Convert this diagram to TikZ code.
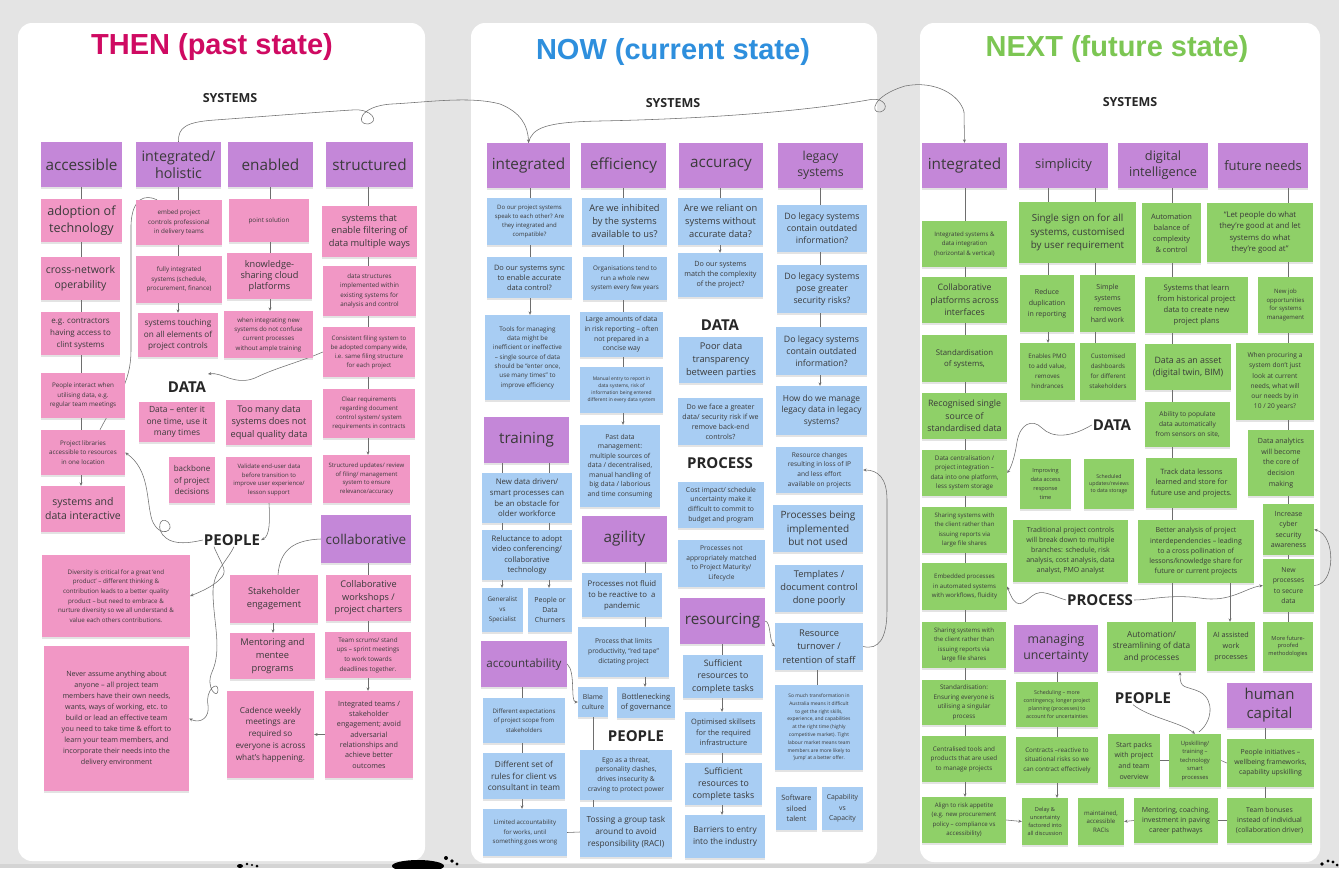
\documentclass[tikz,border=0pt]{standalone}
\usepackage{fontspec}
\setmainfont{Open Sans}
\newfontfamily\ttlfont{Liberation Sans}
\usetikzlibrary{arrows.meta,shadows,calc}
\definecolor{bgg}{HTML}{E4E4E4}
\definecolor{pur}{HTML}{C487D8}
\definecolor{pnk}{HTML}{F197C5}
\definecolor{blu}{HTML}{A8CDF3}
\definecolor{grn}{HTML}{8FD068}
\definecolor{tthen}{HTML}{CF0A62}
\definecolor{tnow}{HTML}{2E8FDD}
\definecolor{tnext}{HTML}{7CC653}
\definecolor{txt}{HTML}{3A3A3A}
\definecolor{lnc}{HTML}{6E6E6E}
\pgfdeclarelayer{bg}\pgfdeclarelayer{lines}\pgfsetlayers{bg,lines,main}
\newcommand\stk[7]{%
 \pgfmathsetmacro\stkw{#4-#2}\pgfmathsetmacro\stkh{#5-#3}%
 \pgfmathsetmacro\stkx{(#2+#4)/2}\pgfmathsetmacro\stky{(#3+#5)/2}%
 \node[#6, minimum width=\stkw pt, minimum height=\stkh pt] (#1) at (\stkx,\stky) {#7};}
\newcommand\cln[4][ln]{\draw[#1] (#2.south -| #4) -- (#3.north -| #4);}
\tikzset{
 stk/.style={rectangle, inner sep=1pt, align=center, text=txt,
   drop shadow={shadow xshift=0.4pt, shadow yshift=-2.4pt, opacity=0.22}},
 pu/.style={stk, fill=pur, font=\fontsize{15.3}{17}\selectfont},
 pk/.style={stk, fill=pnk},
 bl/.style={stk, fill=blu},
 gr/.style={stk, fill=grn},
 fs/.style 2 args={font=\fontsize{#1}{#2}\selectfont},
 lbl/.style={font=\fontsize{15}{17}\selectfont\bfseries, text=black!85, inner sep=1pt},
 sysl/.style={lbl, font=\fontsize{12.5}{14}\selectfont\bfseries},
 ttl/.style={font=\ttlfont\fontsize{29}{31}\selectfont\bfseries},
 ln/.style={draw=lnc, line width=0.55pt},
 ar/.style={ln, -{Stealth[length=3.4pt,width=3pt]}},
}
\begin{document}
\begin{tikzpicture}[x=1pt,y=-1pt]
\useasboundingbox (0,0) rectangle (1339,868);
\begin{pgfonlayer}{bg}
\fill[bgg] (0,0) rectangle (1339,868);
\fill[black!17] (0,864) rectangle (1339,868);
\fill[white, rounded corners=14pt] (18,23) rectangle (425,861);
\fill[white, rounded corners=14pt] (471,23) rectangle (877,863);
\fill[white, rounded corners=14pt] (920,23) rectangle (1320,862);
\fill[black] (240,866) ellipse (3 and 2) (247,864) circle (1.3) (252,865) circle (1.2) (257,866) circle (1.5);
\fill[black] (418,866) ellipse (26 and 6) (446,858) circle (2) (452,861) circle (1.8) (457,864) circle (1.6);
\fill[black] (1322,864) circle (1.8) (1328,861) circle (1.6) (1333,862) circle (1.7) (1337,865) circle (1.5);
\end{pgfonlayer}

% ---------------- titles and labels
\node[ttl, text=tthen] (t1) at (212,47) {THEN (past state)};
\node[ttl, text=tnow] (t2) at (673,52) {NOW (current state)};
\node[ttl, text=tnext] (t3) at (1117,49) {NEXT (future state)};
\node[sysl] (sys1) at (230,98) {SYSTEMS};
\node[sysl] (sys2) at (673,103) {SYSTEMS};
\node[sysl] (sys3) at (1130,102) {SYSTEMS};
\node[lbl] (data1) at (187,387) {DATA};
\node[lbl] (peop1) at (232,540) {PEOPLE};
\node[lbl] (data2) at (720,325) {DATA};
\node[lbl] (proc2) at (720,463) {PROCESS};
\node[lbl] (peop2) at (636,736) {PEOPLE};
\node[lbl] (data3) at (1112,425) {DATA};
\node[lbl] (proc3) at (1100,600) {PROCESS};
\node[lbl] (peop3) at (1143,698) {PEOPLE};

% ---------------- THEN
\stk{acc}{41}{142}{122}{187}{pu}{accessible}
\stk{hol}{136}{142}{221}{187}{pu,fs={14.3}{17}}{integrated/\\holistic}
\stk{ena}{228}{142}{313}{187}{pu}{enabled}
\stk{str}{326}{142}{413}{187}{pu}{structured}
\stk{adop}{41}{199}{122}{242}{pk,fs={12.6}{16.5}}{adoption of\\technology}
\stk{embed}{136}{200}{222}{245}{pk,fs={6.3}{9.5}}{embed project\\controls professional\\in delivery teams}
\stk{point}{229}{199}{309}{242}{pk,fs={6.3}{9.5}}{point solution}
\stk{filt}{322}{206}{417}{257}{pk,fs={9.3}{12.8}}{systems that\\enable filtering of\\data multiple ways}
\stk{cross}{41}{257}{120}{300}{pk,fs={10.5}{15}}{cross-network\\operability}
\stk{fully}{136}{256}{222}{303}{pk,fs={6.3}{9.5}}{fully integrated\\systems (schedule,\\procurement, finance)}
\stk{know}{227}{253}{312}{299}{pk,fs={9.2}{11.3}}{knowledge-\\sharing cloud\\platforms}
\stk{dstruct}{323}{266}{416}{316}{pk,fs={6.3}{9.3}}{data structures\\implemented within\\existing systems for\\analysis and control}
\stk{eg}{41}{312}{120}{355}{pk,fs={8}{12}}{e.g. contractors\\having access to\\clint systems}
\stk{touch}{138}{313}{218}{357}{pk,fs={8.2}{11.5}}{systems touching\\on all elements of\\project controls}
\stk{wint}{224}{311}{313}{358}{pk,fs={6.2}{9.4}}{when integrating new\\systems do not confuse\\current processes\\without ample training}
\stk{consist}{323}{327}{415}{377}{pk,fs={6.1}{9}}{Consistent filing system to\\be adopted company wide,\\i.e. same filing structure\\for each project}
\stk{pint}{41}{373}{125}{418}{pk,fs={6.3}{9.5}}{People interact when\\utilising data, e.g.\\regular team meetings}
\stk{dent}{139}{402}{215}{442}{pk,fs={8.5}{11.5}}{Data – enter it\\one time, use it\\many times}
\stk{toomany}{226}{400}{312}{445}{pk,fs={9.2}{12.5}}{Too many data\\systems does not\\equal quality data}
\stk{clear}{323}{389}{415}{438}{pk,fs={6.1}{9}}{Clear requirements\\regarding document\\control system/ system\\requirements in contracts}
\stk{plib}{41}{430}{125}{475}{pk,fs={6.3}{9.5}}{Project libraries\\accessible to resources\\in one location}
\stk{back}{169}{457}{215}{503}{pk,fs={8}{11.5}}{backbone\\of project\\decisions}
\stk{valid}{226}{457}{312}{503}{pk,fs={6}{8.8}}{Validate end-user data\\before transition to\\improve user experience/\\lesson support}
\stk{supd}{323}{455}{410}{503}{pk,fs={6}{8.8}}{Structured updates/ review\\of filing/ management\\system to ensure\\relevance/accuracy}
\stk{sdi}{41}{486}{125}{532}{pk,fs={10.5}{14}}{systems and\\data interactive}
\stk{coll}{321}{515}{411}{563}{pu,fs={13.5}{16}}{collaborative}
\stk{div}{42}{555}{190}{637}{pk,fs={6.2}{9.6}}{Diversity is critical for a great ‘end\\product’ – different thinking \&\\contribution leads to a better quality\\product – but need to embrace \&\\nurture diversity so we all understand \&\\value each others contributions.}
\stk{stake}{230}{575}{318}{623}{pk,fs={9.3}{13}}{Stakeholder\\engagement}
\stk{cwork}{326}{575}{411}{621}{pk,fs={9.2}{12.5}}{Collaborative\\workshops /\\project charters}
\stk{ment}{230}{633}{315}{679}{pk,fs={9.3}{13}}{Mentoring and\\mentee\\programs}
\stk{scrum}{325}{632}{411}{678}{pk,fs={6.3}{9.6}}{Team scrums/ stand\\ups – sprint meetings\\to work towards\\deadlines together.}
\stk{never}{44}{646}{189}{791}{pk,fs={7.2}{11}}{Never assume anything about\\anyone – all project team\\members have their own needs,\\wants, ways of working, etc. to\\build or lead an effective team\\you need to take time \& effort to\\learn your team members, and\\incorporate their needs into the\\delivery environment}
\stk{cad}{227}{691}{314}{778}{pk,fs={8.2}{11.7}}{Cadence weekly\\meetings are\\required so\\everyone is across\\what’s happening.}
\stk{integ}{325}{691}{413}{778}{pk,fs={7.2}{10.3}}{Integrated teams /\\stakeholder\\engagement; avoid\\adversarial\\relationships and\\achieve better\\outcomes}

% ---------------- NOW
\stk{int2}{487}{143}{570}{188}{pu}{integrated}
\stk{eff}{581}{143}{666}{188}{pu}{efficiency}
\stk{accu}{679}{143}{763}{188}{pu}{accuracy}
\stk{leg}{778}{143}{863}{188}{pu,fs={12.3}{16.5}}{legacy\\systems}
\stk{q1}{487}{198}{572}{245}{bl,fs={6}{9.2}}{Do our project systems\\speak to each other? Are\\they integrated and\\compatible?}
\stk{q2}{582}{198}{667}{245}{bl,fs={9.3}{13}}{Are we inhibited\\by the systems\\available to us?}
\stk{q3}{678}{198}{763}{245}{bl,fs={9.3}{13}}{Are we reliant on\\systems without\\accurate data?}
\stk{q4}{777}{205}{867}{252}{bl,fs={8.8}{12}}{Do legacy systems\\contain outdated\\information?}
\stk{q5}{487}{257}{572}{298}{bl,fs={7.4}{10}}{Do our systems sync\\to enable accurate\\data control?}
\stk{q6}{583}{257}{667}{300}{bl,fs={6.3}{9.5}}{Organisations tend to\\run a whole new\\system every few years}
\stk{q7}{678}{253}{763}{297}{bl,fs={7.2}{10}}{Do our systems\\match the complexity\\of the project?}
\stk{q8}{777}{265}{867}{313}{bl,fs={8.8}{12}}{Do legacy systems\\pose greater\\security risks?}
\stk{q9}{485}{315}{570}{400}{bl,fs={6.3}{9.3}}{Tools for managing\\data might be\\inefficient or ineffective\\– single source of data\\should be “enter once,\\use many times” to\\improve efficiency}
\stk{q10}{580}{312}{663}{357}{bl,fs={6.8}{9.8}}{Large amounts of data\\in risk reporting – often\\not prepared in a\\concise way}
\stk{q11}{679}{337}{763}{383}{bl,fs={9.3}{13}}{Poor data\\transparency\\between parties}
\stk{q12}{776}{327}{867}{375}{bl,fs={8.8}{12}}{Do legacy systems\\contain outdated\\information?}
\stk{q13}{580}{367}{663}{413}{bl,fs={4.9}{7}}{Manual entry to report in\\data systems, risk of\\information being entered\\different in every data system}
\stk{q14}{678}{398}{763}{445}{bl,fs={7.1}{10}}{Do we face a greater\\data/ security risk if we\\remove back-end\\controls?}
\stk{q15}{776}{386}{867}{435}{bl,fs={8.4}{11.5}}{How do we manage\\legacy data in legacy\\systems?}
\stk{train}{484}{417}{569}{463}{pu}{training}
\stk{q16}{580}{425}{660}{507}{bl,fs={6.8}{9.5}}{Past data\\management:\\multiple sources of\\data / decentralised,\\manual handling of\\big data / laborious\\and time consuming}
\stk{q17}{776}{447}{863}{493}{bl,fs={6.6}{9.8}}{Resource changes\\resulting in loss of IP\\and less effort\\available on projects}
\stk{q18}{482}{473}{572}{523}{bl,fs={7.8}{10.7}}{New data driven/\\smart processes can\\be an obstacle for\\older workforce}
\stk{q19}{678}{482}{764}{528}{bl,fs={6.8}{9.8}}{Cost impact/ schedule\\uncertainty make it\\difficult to commit to\\budget and program}
\stk{q20}{773}{505}{863}{552}{bl,fs={10}{13.5}}{Processes being\\implemented\\but not used}
\stk{agil}{582}{516}{667}{562}{pu}{agility}
\stk{q21}{482}{530}{572}{580}{bl,fs={7.6}{10.3}}{Reluctance to adopt\\video conferencing/\\collaborative\\technology}
\stk{q22}{678}{540}{765}{587}{bl,fs={6.6}{9.8}}{Processes not\\appropriately matched\\to Project Maturity/\\Lifecycle}
\stk{q23}{775}{565}{863}{612}{bl,fs={9.3}{13}}{Templates /\\document control\\done poorly}
\stk{q24}{482}{588}{523}{632}{bl,fs={6.3}{10}}{Generalist\\vs\\Specialist}
\stk{q25}{528}{588}{572}{632}{bl,fs={7}{10}}{People or\\Data\\Churners}
\stk{q26}{582}{573}{662}{617}{bl,fs={7.8}{11}}{Processes not fluid\\to be reactive to \ a\\pandemic}
\stk{res}{680}{598}{765}{644}{pu}{resourcing}
\stk{q27}{775}{623}{863}{670}{bl,fs={9.3}{13.5}}{Resource\\turnover /\\retention of staff}
\stk{acct}{481}{641}{567}{687}{pu,fs={11.6}{14}}{accountability}
\stk{q28}{578}{627}{669}{677}{bl,fs={6.7}{10}}{Process that limits\\productivity, “red tape”\\dictating project}
\stk{q29}{683}{655}{763}{698}{bl,fs={8.8}{12.3}}{Sufficient\\resources to\\complete tasks}
\stk{q30}{578}{687}{608}{717}{bl,fs={6.8}{10}}{Blame\\culture}
\stk{q31}{617}{687}{675}{718}{bl,fs={7.6}{10.5}}{Bottlenecking\\of governance}
\stk{q32}{483}{698}{565}{743}{bl,fs={6.1}{9.5}}{Different expectations\\of project scope from\\stakeholders}
\stk{q33}{775}{685}{863}{770}{bl,fs={4.9}{7.8}}{So much transformation in\\Australia means it difficult\\to get the right skills,\\experience, and capabilities\\at the right time (highly\\competitive market). Tight\\labour market means team\\members are more likely to\\‘jump’ at a better offer.}
\stk{q34}{685}{712}{762}{753}{bl,fs={7.4}{10.5}}{Optimised skillsets\\for the required\\infrastructure}
\stk{q35}{483}{753}{565}{799}{bl,fs={8.3}{11.5}}{Different set of\\rules for client vs\\consultant in team}
\stk{q36}{580}{750}{672}{800}{bl,fs={6.7}{9.8}}{Ego as a threat,\\personality clashes,\\drives insecurity \&\\craving to protect power}
\stk{q37}{685}{763}{762}{805}{bl,fs={8.8}{12.3}}{Sufficient\\resources to\\complete tasks}
\stk{q38}{776}{787}{817}{830}{bl,fs={7.3}{10.5}}{Software\\siloed\\talent}
\stk{q39}{822}{787}{863}{830}{bl,fs={6.8}{10.5}}{Capability\\vs\\Capacity}
\stk{q40}{483}{809}{567}{856}{bl,fs={6.1}{9.5}}{Limited accountability\\for works, until\\something goes wrong}
\stk{q41}{580}{807}{672}{857}{bl,fs={8.3}{12}}{Tossing a group task\\around to avoid\\responsibility (RACI)}
\stk{q42}{685}{815}{765}{858}{bl,fs={8.3}{12}}{Barriers to entry\\into the industry}

% ---------------- NEXT
\stk{int3}{922}{143}{1007}{188}{pu}{integrated}
\stk{simp}{1019}{143}{1108}{188}{pu,fs={13}{16}}{simplicity}
\stk{digi}{1118}{143}{1208}{188}{pu,fs={12.8}{16}}{digital\\intelligence}
\stk{fut}{1218}{143}{1308}{188}{pu,fs={13}{16}}{future needs}
\stk{g1}{1019}{202}{1136}{263}{gr,fs={9.8}{13.5}}{Single sign on for all\\systems, customised\\by user requirement}
\stk{g2}{1142}{203}{1201}{263}{gr,fs={7.4}{11}}{Automation\\balance of\\complexity\\\& control}
\stk{g3}{1207}{203}{1313}{262}{gr,fs={7.8}{11.5}}{“Let people do what\\they’re good at and let\\systems do what\\they’re good at”}
\stk{g4}{922}{221}{1007}{267}{gr,fs={6.1}{9.3}}{Integrated systems \&\\data integration\\(horizontal \& vertical)}
\stk{g5}{922}{277}{1007}{323}{gr,fs={8.8}{12.5}}{Collaborative\\platforms across\\interfaces}
\stk{g6}{1020}{275}{1074}{332}{gr,fs={7}{11}}{Reduce\\duplication\\in reporting}
\stk{g7}{1080}{275}{1135}{332}{gr,fs={7}{11}}{Simple\\systems\\removes\\hard work}
\stk{g8}{1145}{277}{1248}{333}{gr,fs={7.6}{11}}{Systems that learn\\from historical project\\data to create new\\project plans}
\stk{g9}{1258}{277}{1313}{333}{gr,fs={6}{8.5}}{New job\\opportunities\\for systems\\management}
\stk{g10}{922}{335}{1007}{382}{gr,fs={7.8}{11}}{Standardisation\\of systems,}
\stk{g11}{1020}{343}{1075}{400}{gr,fs={6.2}{10}}{Enables PMO\\to add value,\\removes\\hindrances}
\stk{g12}{1080}{343}{1136}{400}{gr,fs={6.2}{10}}{Customised\\dashboards\\for different\\stakeholders}
\stk{g13}{1145}{344}{1231}{390}{gr,fs={8.8}{12}}{Data as an asset\\(digital twin, BIM)}
\stk{g14}{1236}{343}{1314}{420}{gr,fs={6.6}{10.2}}{When procuring a\\system don’t just\\look at current\\needs, what will\\our needs by in\\10 / 20 years?}
\stk{g15}{922}{393}{1007}{439}{gr,fs={8.8}{12.5}}{Recognised single\\source of\\standardised data}
\stk{g16}{1145}{402}{1230}{447}{gr,fs={6.6}{10.3}}{Ability to populate\\data automatically\\from sensors on site,}
\stk{g17}{922}{450}{1007}{496}{gr,fs={6.3}{9.5}}{Data centralisation /\\project integration –\\data into one platform,\\less system storage}
\stk{g18}{1020}{459}{1071}{509}{gr,fs={5.6}{9}}{Improving\\data access\\response\\time}
\stk{g19}{1084}{459}{1134}{509}{gr,fs={5.2}{7.2}}{Scheduled\\updates/reviews\\to data storage}
\stk{g20}{1146}{458}{1237}{508}{gr,fs={7.3}{10.7}}{Track data lessons\\learned and store for\\future use and projects.}
\stk{g21}{1248}{430}{1314}{496}{gr,fs={7.1}{10.7}}{Data analytics\\will become\\the core of\\decision\\making}
\stk{g22}{922}{507}{1007}{553}{gr,fs={6.1}{9.6}}{Sharing systems with\\the client rather than\\issuing reports via\\large file shares}
\stk{g23}{1013}{520}{1128}{582}{gr,fs={7}{10}}{Traditional project controls\\will break down to multiple\\branches: schedule, risk\\analysis, cost analysis, data\\analyst, PMO analyst}
\stk{g24}{1138}{520}{1254}{583}{gr,fs={7}{10.3}}{Better analysis of project\\interdependencies – leading\\to a cross pollination of\\lessons/knowledge share for\\future or current projects}
\stk{g25}{1263}{504}{1314}{555}{gr,fs={7.1}{10.5}}{Increase\\cyber\\security\\awareness}
\stk{g26}{922}{563}{1007}{610}{gr,fs={6.1}{9.5}}{Embedded processes\\in automated systems\\with workflows, fluidity}
\stk{g27}{1263}{559}{1314}{612}{gr,fs={6.8}{10.5}}{New\\processes\\to secure\\data}
\stk{g28}{922}{622}{1006}{668}{gr,fs={6.1}{9.6}}{Sharing systems with\\the client rather than\\issuing reports via\\large file shares}
\stk{mu}{1014}{625}{1098}{672}{pu,fs={12.3}{16.5}}{managing\\uncertainty}
\stk{g29}{1107}{622}{1196}{671}{gr,fs={8.3}{11.5}}{Automation/\\streamlining of data\\and processes}
\stk{g30}{1207}{622}{1255}{671}{gr,fs={7.2}{11}}{AI assisted\\work\\processes}
\stk{g31}{1263}{622}{1313}{671}{gr,fs={5.6}{7.5}}{More future-\\proofed\\methodologies}
\stk{g32}{922}{680}{1006}{725}{gr,fs={6.3}{9.6}}{Standardisation:\\Ensuring everyone is\\utilising a singular\\process}
\stk{g33}{1016}{682}{1098}{727}{gr,fs={5.3}{8}}{Scheduling – more\\contingency, longer project\\planning (processes) to\\account for uncertainties}
\stk{hc}{1227}{683}{1312}{728}{pu,fs={15}{19}}{human\\capital}
\stk{g34}{922}{736}{1006}{782}{gr,fs={6.3}{9.5}}{Centralised tools and\\products that are used\\to manage projects}
\stk{g35}{1016}{737}{1098}{783}{gr,fs={6.3}{9.5}}{Contracts –reactive to\\situational risks so we\\can contract effectively}
\stk{g36}{1108}{734}{1160}{787}{gr,fs={7}{10.7}}{Start packs\\with project\\and team\\overview}
\stk{g37}{1169}{734}{1221}{787}{gr,fs={5.8}{8.5}}{Upskilling/\\training –\\technology\\smart\\processes}
\stk{g38}{1227}{739}{1314}{787}{gr,fs={6.9}{10}}{People initiatives –\\wellbeing frameworks,\\capability upskilling}
\stk{g39}{922}{797}{1006}{843}{gr,fs={6.1}{9.2}}{Align to risk appetite\\(e.g. new procurement\\policy – compliance vs\\accessibility)}
\stk{g40}{1022}{798}{1068}{845}{gr,fs={5.6}{8.2}}{Delay \&\\uncertainty\\factored into\\all discussion}
\stk{g41}{1078}{798}{1124}{845}{gr,fs={6.1}{8.8}}{maintained,\\accessible\\RACIs}
\stk{g42}{1134}{798}{1218}{843}{gr,fs={7}{10.2}}{Mentoring, coaching,\\investment in paving\\career pathways}
\stk{g43}{1227}{798}{1312}{843}{gr,fs={6.9}{10.2}}{Team bonuses\\instead of individual\\(collaboration driver)}

% ---------------- connectors
\coordinate (xa) at (81,0); \coordinate (xb) at (178,0); \coordinate (xc) at (270,0);
\coordinate (xd) at (368,0); \coordinate (xe) at (273,0); \coordinate (xs) at (278,0);
\coordinate (ya) at (530,0); \coordinate (yb) at (623,0); \coordinate (yc) at (720,0);
\coordinate (yd) at (820,0); \coordinate (ye) at (502,0); \coordinate (yf) at (549,0);
\coordinate (yg) at (645,0); \coordinate (yh) at (522,0); \coordinate (yi) at (593,0);
\coordinate (yj) at (722,0); \coordinate (yk) at (817,0);
\coordinate (za) at (965,0); \coordinate (zb) at (1048,0); \coordinate (zc) at (1095,0);
\coordinate (zd) at (1172,0); \coordinate (ze) at (1288,0); \coordinate (zf) at (1230,0);
\coordinate (zg) at (1057,0); \coordinate (zh) at (1265,0);
\begin{pgfonlayer}{lines}
% THEN columns
\cln{acc}{adop}{xa}\cln{adop}{cross}{xa}\cln{cross}{eg}{xa}\cln{eg}{pint}{xa}\cln{pint}{plib}{xa}\cln[ar]{plib}{sdi}{xa}
\cln{hol}{embed}{xb}\cln{embed}{fully}{xb}\cln[ar]{fully}{touch}{xb}
\cln{ena}{point}{xc}\cln{point}{know}{xc}\cln[ar]{know}{wint}{xc}
\cln{str}{filt}{xd}\cln{filt}{dstruct}{xd}\cln{dstruct}{consist}{xd}\cln{consist}{clear}{xd}\cln[ar]{clear}{supd}{xd}
\cln{coll}{cwork}{xd}\cln{cwork}{scrum}{xd}\cln[ar]{scrum}{integ}{xd}
\cln[ar]{stake}{ment}{xe}
\draw[ar] (integ.west) -- (cad.east);
% THEN curves
\draw[ar] (hol.north) .. controls (178,128) and (185,122) .. (215,120)
  .. controls (270,116) and (320,112) .. (352,110)
  .. controls (372,108) and (380,122) .. (368,124)
  .. controls (356,125) and (358,106) .. (392,104)
  .. controls (430,102) and (470,96) .. (500,104)
  .. controls (520,112) and (528,125) .. (int2.north);
\draw[ar] (int2.north) .. controls (532,128) and (545,122) .. (600,121)
  .. controls (700,119) and (800,112) .. (868,100)
  .. controls (886,96) and (890,110) .. (880,112)
  .. controls (870,113) and (872,96) .. (905,86)
  .. controls (935,80) and (960,95) .. (964,112)
  -- (int3.north);
\draw[ln] ($(embed.north)+(-22,0)$) .. controls (145,194) and (132,198) .. (131,225)
  -- (131,350) .. controls (131,385) and (115,400) .. ($(plib.north)+(17,0)$);
\draw[ar] (consist.west) .. controls (300,362) and (275,368) .. (255,378)
  .. controls (235,386) and (222,372) .. (208,374);
\draw[ar] (peop1.west) .. controls (190,543) and (175,545) .. (166,538)
  .. controls (155,530) and (160,515) .. (168,522)
  .. controls (176,530) and (160,540) .. (152,520)
  .. controls (146,500) and (150,470) .. (plib.east);
\draw[ar] (valid.south) .. controls (270,520) and (270,536) .. (peop1.east);
\draw[ar] ($(peop1.south)+(-18,0)$) .. controls (220,562) and (228,570) .. (222,577)
  .. controls (215,585) and (205,590) .. (div.east);
\draw[ar] ($(peop1.south)+(2,0)$) .. controls (226,563) and (212,572) .. (213,595)
  .. controls (214,625) and (222,650) .. (212,672)
  .. controls (205,688) and (218,700) .. (218,690)
  .. controls (218,680) and (205,690) .. (208,705)
  .. controls (210,718) and (200,724) .. (never.east);
\draw[ln] (coll.west) .. controls (296,540) and (280,548) .. (stake.north -| xs);
% NOW columns
\cln{int2}{q1}{ya}\cln{q1}{q5}{ya}\cln[ar]{q5}{q9}{ya}
\cln{eff}{q2}{yb}\cln{q2}{q6}{yb}\cln{q6}{q10}{yb}\cln{q10}{q13}{yb}\cln[ar]{q13}{q16}{yb}
\cln{accu}{q3}{yc}\cln[ar]{q3}{q7}{yc}
\cln{leg}{q4}{yd}\cln{q4}{q8}{yd}\cln{q8}{q12}{yd}\cln[ar]{q12}{q15}{yd}
\cln{train}{q18}{ye}\cln{train}{q18}{yf}\cln{q18}{q21}{ye}\cln{q18}{q21}{yf}
\cln[ar]{q21}{q24}{ye}\cln[ar]{q21}{q25}{yf}
\cln{agil}{q26}{yg}\cln{q26}{q28}{yg}\cln[ar]{q28}{q31}{yg}
\cln{acct}{q32}{yh}\cln{q32}{q35}{yh}\cln[ar]{q35}{q40}{yh}
\cln{q30}{q36}{yi}\cln{q36}{q41}{yi}
\draw[ln] (q40.east) -- (q41.west);
\cln{res}{q29}{yj}\cln[ar]{q29}{q34}{yj}\cln{q34}{q37}{yj}\cln[ar]{q37}{q42}{yj}
\cln{q27}{q33}{yk}
\draw[ar] (acct.east) .. controls (576,672) and (570,702) .. (q30.west);
\draw[ar] (res.east) .. controls (771,622) and (769,640) .. (q27.west);
\draw[ar] (q27.east) .. controls (878,650) and (887,640) .. (887,610)
  -- (887,500) .. controls (887,478) and (878,470) .. (q17.east);
% NEXT columns
\cln{int3}{g4}{za}\cln{g4}{g5}{za}\cln{g5}{g10}{za}\cln{g10}{g15}{za}\cln{g15}{g17}{za}
\cln{g17}{g22}{za}\cln{g22}{g26}{za}\cln{g26}{g28}{za}\cln{g28}{g32}{za}\cln{g32}{g34}{za}\cln[ar]{g34}{g39}{za}
\cln{simp}{g1}{zb}\cln{simp}{g1}{zc}\cln{g1}{g6}{zb}\cln{g1}{g7}{zc}\cln[ar]{g6}{g11}{zb}\cln{g7}{g12}{zc}
\cln{digi}{g2}{zd}\cln{g2}{g8}{zd}\cln{g8}{g13}{zd}\cln{g13}{g16}{zd}\cln{g16}{g20}{zd}\cln{g20}{g24}{zd}\cln{g24}{g29}{zd}
\cln{fut}{g3}{ze}\cln{g3}{g9}{ze}\cln{g9}{g14}{ze}\cln{g14}{g21}{ze}\cln{g21}{g25}{ze}\cln{g25}{g27}{ze}\cln{g27}{g31}{ze}
\cln[ar]{g24}{g30}{zf}
\cln{mu}{g33}{zg}\cln{g33}{g35}{zg}\cln[ar]{g35}{g40}{zg}
\cln{hc}{g38}{zh}\cln{g38}{g43}{zh}
\draw[ln] (g38.west) -- (g37.east);
\draw[ln] (g37.west) -- (g36.east);
\draw[ln] (g43.west) -- (g42.east);
\draw[ar] (g42.west) -- (g41.east);
\draw[ar] (g39.east) -- (g40.west);
\draw[ar] (data3.west) .. controls (1070,438) and (1052,438) .. (1042,428)
  .. controls (1032,418) and (1020,424) .. (1017,442)
  .. controls (1015,455) and (1012,466) .. (g17.east);
\draw[ar] (proc3.west) .. controls (1052,596) and (1042,588) .. (1032,596)
  .. controls (1022,604) and (1016,611) .. (g26.east);
\draw[ar] (proc3.east) .. controls (1150,600) and (1170,594) .. (1200,598)
  .. controls (1230,603) and (1245,588) .. (g27.west);
\draw[ar] (g27.east) .. controls (1336,585) and (1336,535) .. (g25.east);
\draw[ar] ($(peop3.south)+(-10,0)$) .. controls (1150,718) and (1180,722) .. (g37.north);
\draw[ar] ($(g37.north)+(4,-2)$) .. controls (1212,722) and (1215,700) .. (1200,692)
  .. controls (1185,685) and (1180,690) .. (1180,672);
\end{pgfonlayer}
\end{tikzpicture}
\end{document}
